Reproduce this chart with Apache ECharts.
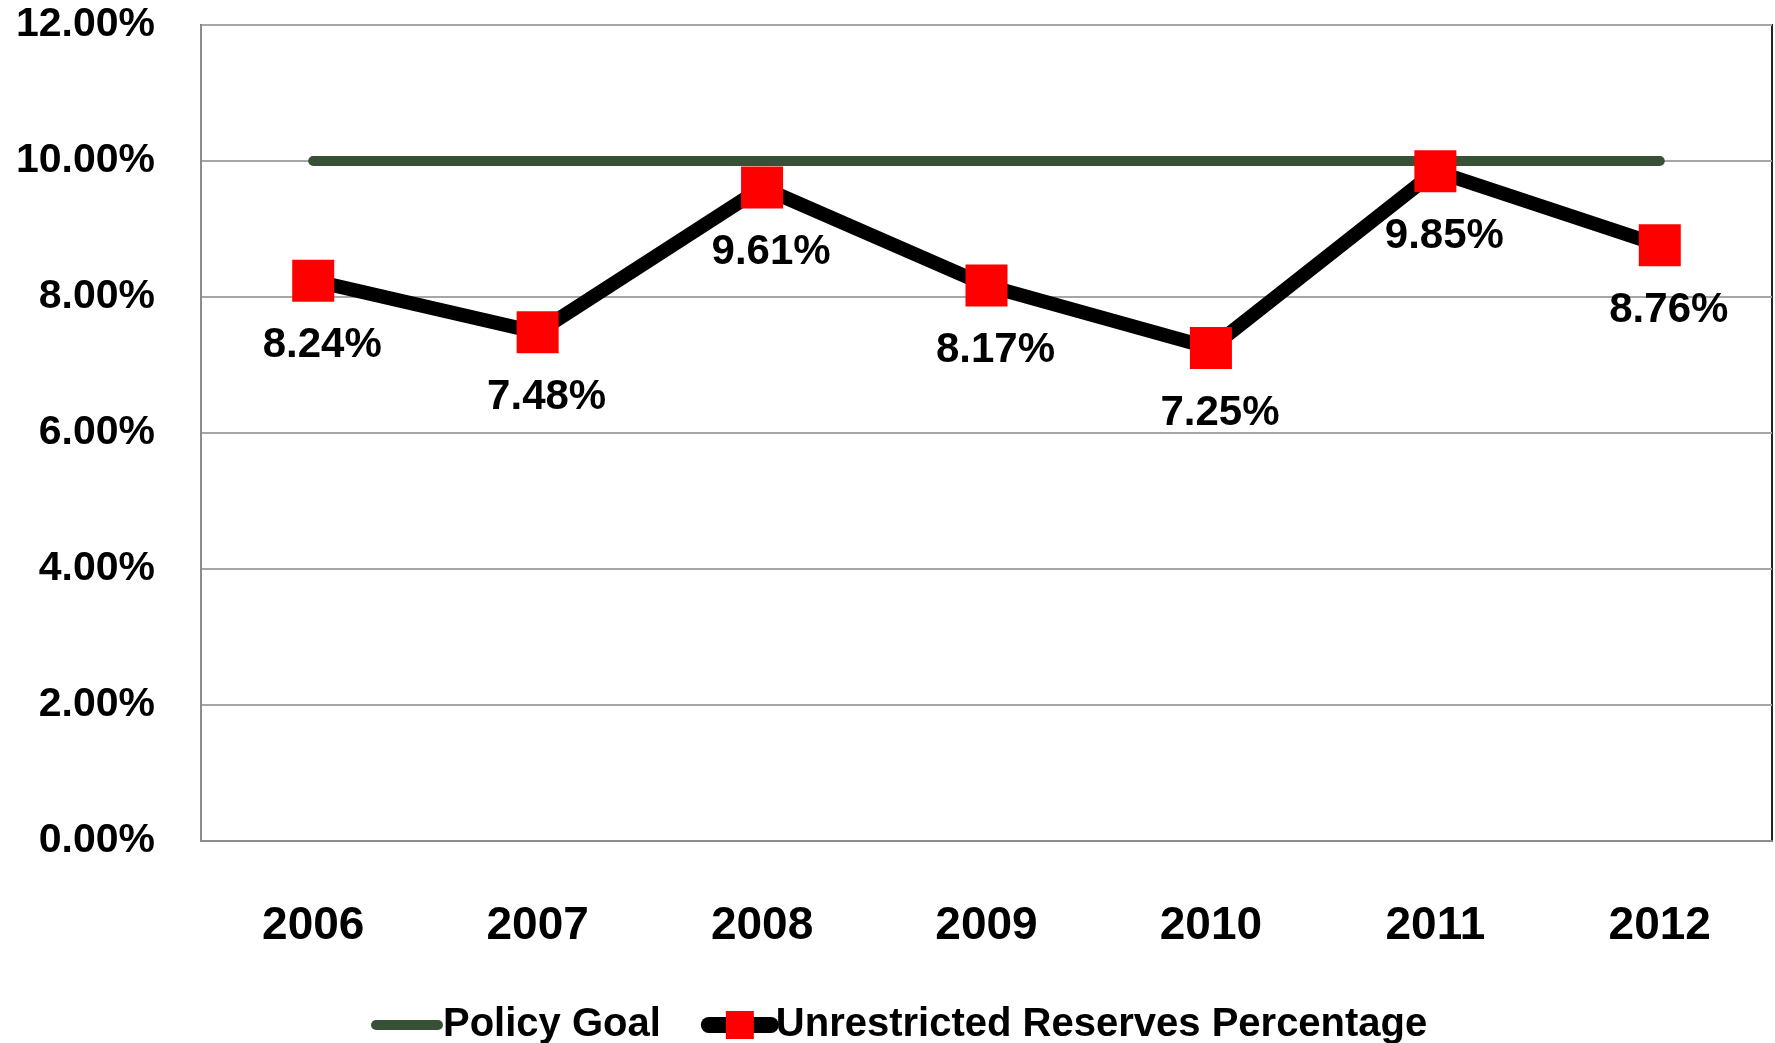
<!DOCTYPE html>
<html>
<head>
<meta charset="utf-8">
<script src="https://cdn.jsdelivr.net/npm/echarts@6/dist/echarts.min.js"></script>
<style>
html,body{margin:0;padding:0;background:#fff;}
#chart{width:1775px;height:1043px;}
</style>
</head>
<body>
<div id="chart"></div>
<script>
const categories = ['2006','2007','2008','2009','2010','2011','2012'];
const policyGoal = [10, 10, 10, 10, 10, 10, 10];
const reserves = [8.24, 7.48, 9.61, 8.17, 7.25, 9.85, 8.76];
const yTicks = [0, 2, 4, 6, 8, 10, 12];

const FONT = 'Liberation Sans';
const chart = echarts.init(document.getElementById('chart'));
chart.setOption({
  animation: false,
  backgroundColor: '#ffffff',
  grid: { left: 201, right: 3, top: 25, bottom: 202, show: true, borderColor: '#222', borderWidth: 2 },
  legend: {
    left: 366, top: 1000,
    itemWidth: 62, itemHeight: 35, itemGap: 40,
    textStyle: { fontFamily: FONT, fontWeight: 'bold', fontSize: 40, color: '#000' },
    data: [
      { name: 'Policy Goal', itemStyle: { opacity: 0 }, lineStyle: { width: 10, cap: 'round', color: '#385036' } },
      { name: 'Unrestricted Reserves Percentage', lineStyle: { width: 16, cap: 'round', color: '#000' } }
    ]
  },
  xAxis: {
    type: 'category',
    data: categories,
    boundaryGap: true,
    axisLine: { lineStyle: { color: '#8c8c8c', width: 2 } },
    axisTick: { show: false },
    axisLabel: { fontFamily: FONT, fontWeight: 'bold', fontSize: 46, color: '#000', margin: 62 }
  },
  yAxis: {
    type: 'value',
    min: yTicks[0], max: yTicks[yTicks.length - 1], interval: 2,
    axisLine: { show: true, lineStyle: { color: '#8c8c8c', width: 2 } },
    axisTick: { show: false },
    splitLine: { lineStyle: { color: '#a6a6a6', width: 2 } },
    axisLabel: { fontFamily: FONT, fontWeight: 'bold', fontSize: 41, color: '#000', margin: 46,
      formatter: v => v.toFixed(2) + '%' }
  },
  series: [
    {
      name: 'Policy Goal',
      type: 'line',
      data: policyGoal,
      symbol: 'none',
      z: 2,
      lineStyle: { color: '#385036', width: 10, cap: 'round' },
      itemStyle: { color: '#385036' }
    },
    {
      name: 'Unrestricted Reserves Percentage',
      type: 'line',
      data: reserves,
      symbol: 'rect',
      symbolSize: 42,
      z: 3,
      lineStyle: { color: '#000', width: 14, cap: 'round' },
      itemStyle: { color: '#ff0000' },
      label: {
        show: true,
        position: 'inside',
        offset: [9, 65],
        fontFamily: FONT, fontWeight: 'bold', fontSize: 42, color: '#000',
        formatter: p => p.value.toFixed(2) + '%'
      }
    }
  ]
});
</script>
</body>
</html>
